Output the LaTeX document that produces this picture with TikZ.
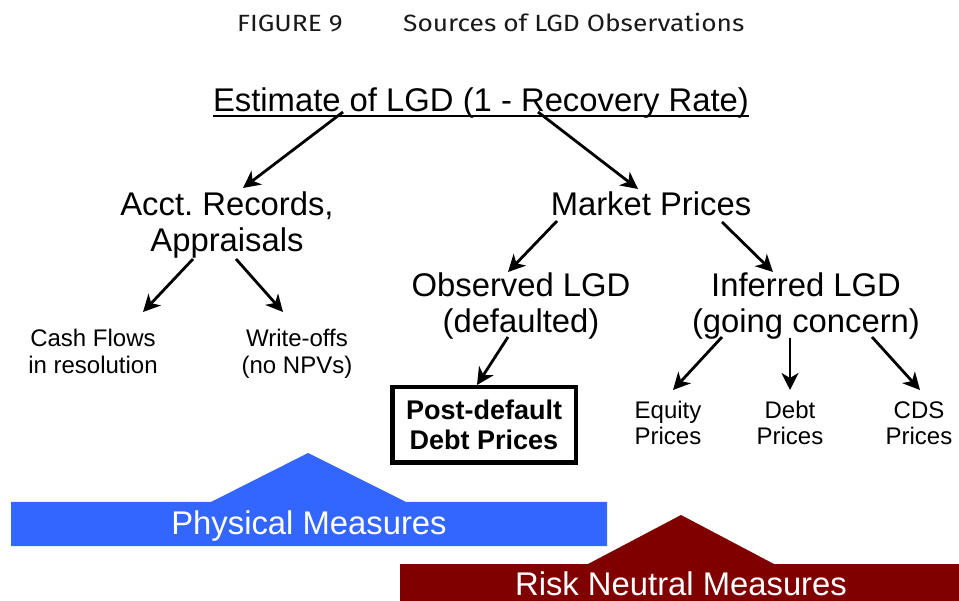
\documentclass[tikz,border=0pt]{standalone}
\usepackage{fontspec}
\setmainfont{Liberation Sans}
\newfontfamily\titlefont[FakeStretch=1.12]{Fira Sans}
\usetikzlibrary{arrows.meta}
\definecolor{physblue}{RGB}{51,102,255}
\definecolor{riskred}{RGB}{128,0,0}
\frenchspacing
\tikzset{
  big/.style={font=\fontsize{32.8}{36}\selectfont,align=center,inner sep=0pt,anchor=base},
  small/.style={font=\fontsize{24}{27}\selectfont,align=center,inner sep=0pt,anchor=base},
  tiny/.style={font=\fontsize{24}{26}\selectfont,align=center,inner sep=0pt,anchor=base},
  band/.style={font=\fontsize{32.8}{36}\selectfont,text=white,inner sep=0pt,anchor=base},
  ttl/.style={font=\titlefont\fontsize{23.5}{25}\selectfont,text=black!90,inner sep=0pt,anchor=base west},
  arr/.style={-{Stealth[length=17pt,width=17pt,inset=5pt]},line width=2.8pt}
}
\begin{document}
\begin{tikzpicture}[x=1pt,y=-1pt]
\useasboundingbox (0,0) rectangle (959,601);
\fill [physblue] (11,502) -- (211,502) -- (308,453) -- (406,502) -- (607,502) -- (607,546) -- (11,546) -- cycle;
\fill [riskred] (400,564) -- (588,564) -- (681,515) -- (774,564) -- (959,564) -- (959,601) -- (400,601) -- cycle;
\path node (fig) at (237,32) [ttl] {FIGURE 9}
      node (cap) at (403,32) [ttl] {Sources of LGD Observations}
      node (est) at (481,112) [big] {Estimate of LGD (1 - Recovery Rate)}
      node (acct) at (227,252) [big] {Acct. Records,\\Appraisals}
      node (market) at (651,216) [big] {Market Prices}
      node (obs) at (521,333) [big] {Observed LGD\\(defaulted)}
      node (inf) at (806,333) [big] {Inferred LGD\\(going concern)}
      node (cash) at (93,374) [small] {Cash Flows\\in resolution}
      node (wo) at (297,374) [small] {Write-offs\\(no NPVs)}
      node (eq) at (668,445) [tiny] {Equity\\Prices}
      node (debt) at (790,445) [tiny] {Debt\\Prices}
      node (cds) at (919,445) [tiny] {CDS\\Prices}
      node (pdd) at (484,425) [draw,line width=4.5pt,minimum width=183.5pt,minimum height=75.5pt,align=center,font=\bfseries\fontsize{27}{30}\selectfont] {Post-default\\Debt Prices}
      node (phys) at (309,534) [band] {Physical Measures}
      node (risk) at (681,595) [band] {Risk Neutral Measures};
\draw [line width=2pt] ([shift={(0,4)}]est.base west) to ([shift={(0,4)}]est.base east);
\draw [arr] ([shift={(-138,0)}]est.base) to ([shift={(16,-64)}]acct.base);
\draw [arr] ([shift={(57,0)}]est.base) to ([shift={(-13,-27)}]market.base);
\draw [arr] ([shift={(-34,7)}]acct.base) to ([shift={(50,-62)}]cash.base);
\draw [arr] ([shift={(9,7)}]acct.base) to ([shift={(-14,-62)}]wo.base);
\draw [arr] ([shift={(-94,5)}]market.base) to ([shift={(-13,-61)}]obs.base);
\draw [arr] ([shift={(71,6)}]market.base) to ([shift={(-33,-61)}]inf.base);
\draw [arr] ([shift={(-13,4)}]obs.base) to ([shift={(-7,0)}]pdd.north);
\draw [arr] ([shift={(-84,4)}]inf.base) to ([shift={(5,-55)}]eq.base);
\draw [arr] ([shift={(-16,5)}]inf.base) to ([shift={(0,-55)}]debt.base);
\draw [arr] ([shift={(66,4)}]inf.base) to ([shift={(1,-55)}]cds.base);
\end{tikzpicture}
\end{document}
